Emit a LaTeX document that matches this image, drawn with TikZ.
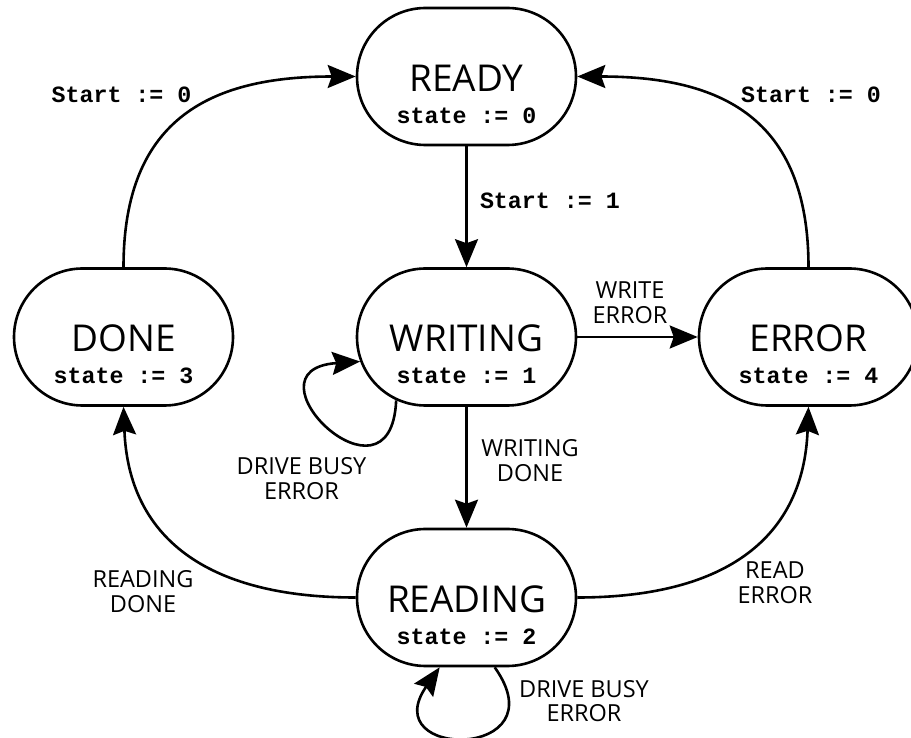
\documentclass[tikz,border=0pt]{standalone}
\usepackage{fontspec}
\setmainfont{Open Sans}
\newfontfamily\codefont{Liberation Mono}
\usetikzlibrary{arrows.meta,shapes.misc}

\begin{document}
\begin{tikzpicture}[x=1pt,y=1pt,
  statebox/.style={draw=drawColor,line width=2.6pt,rounded rectangle,
    minimum width=219pt,minimum height=137pt,inner sep=0pt},
  statename/.style={text=drawColor,anchor=base,inner sep=0pt,outer sep=0pt,
    font=\fontsize{37}{40}\selectfont},
  statecode/.style={text=drawColor,anchor=base,inner sep=0pt,outer sep=0pt,
    font=\codefont\bfseries\fontsize{23.3}{25}\selectfont},
  trans/.style={draw=drawColor,line width=2.6pt,line join=round,
    -{Stealth[length=28pt,width=23pt,inset=4pt]}},
  translabel/.style={text=drawColor,anchor=base,inner sep=0pt,outer sep=0pt,align=center,
    font=\fontsize{23.5}{24.5}\selectfont}]
\definecolor{fillColor}{RGB}{255,255,255}
\definecolor{drawColor}{RGB}{0,0,0}
\path[use as bounding box,fill=fillColor] (0,0) rectangle (911,737);
\begin{scope}
\path[clip] (0,0) rectangle (911,737);

\node[statebox] (ready) at (466.5,660.5) {};
\node[statebox] (writing) at (466.5,400) {};
\node[statebox] (done) at (123.5,400) {};
\node[statebox] (error) at (808.5,400) {};
\node[statebox] (reading) at (466.5,139.5) {};

\node[statename] (readyName) at (466.5,645.5) {READY};
\node[statecode] (readyCode) at (466.5,613.5) {state := 0};
\node[statename] (writingName) at (466.5,385) {WRITING};
\node[statecode] (writingCode) at (466.5,353) {state := 1};
\node[statename] (doneName) at (123.5,385) {DONE};
\node[statecode] (doneCode) at (123.5,353) {state := 3};
\node[statename] (errorName) at (808.5,385) {ERROR};
\node[statecode] (errorCode) at (808.5,353) {state := 4};
\node[statename] (readingName) at (466.5,124.5) {READING};
\node[statecode] (readingCode) at (466.5,92.5) {state := 2};

\path[trans] (ready.south) -- (writing.north);
\path[trans] (writing.east) -- (error.west);
\path[trans] (writing.south) -- (reading.north);
\path[trans] (done.north) .. controls +(0,151) and +(-142,0) .. (ready.west);
\path[trans] (error.north) .. controls +(0,151) and +(142,0) .. (ready.east);
\path[trans] (reading.west) .. controls +(-150,0) and +(5,-130) .. (done.south);
\path[trans] (reading.east) .. controls +(150,0) and +(-5,-130) .. (error.south);
\path[trans] (writing.222) .. controls +(-5,-118) and +(-122,-8) .. (writing.193);
\path[trans] (reading.292) .. controls +(66,-93) and +(-65,-93) .. (reading.249);

\node[statecode,anchor=base west] (startOne) at (480,528) {Start := 1};
\node[statecode] (startZeroLeft) at (121.5,634) {Start := 0};
\node[statecode] (startZeroRight) at (811,634) {Start := 0};
\node[translabel] (writeError) at (630,413.5) {WRITE\\ERROR};
\node[translabel] (writingDone) at (530,255.5) {WRITING\\DONE};
\node[translabel] (busyWriting) at (301.5,237.5) {DRIVE BUSY\\ERROR};
\node[translabel] (readingDone) at (143,124.5) {READING\\DONE};
\node[translabel] (readError) at (775,133.5) {READ\\ERROR};
\node[translabel] (busyReading) at (584,15.5) {DRIVE BUSY\\ERROR};
\end{scope}
\end{tikzpicture}
\end{document}
